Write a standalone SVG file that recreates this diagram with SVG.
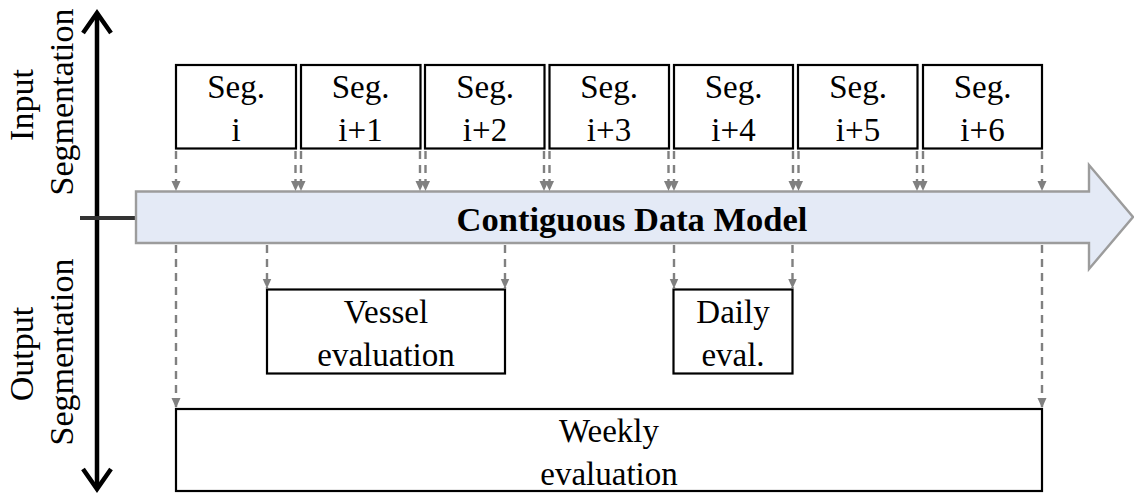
<svg xmlns="http://www.w3.org/2000/svg" width="1134" height="493" viewBox="0 0 1134 493">
<style>
  .box{fill:#fff;stroke:#000;stroke-width:2.2}
  .t{font-family:"Liberation Serif","Times New Roman",serif;font-size:33px;fill:#000;text-anchor:middle}
  .side{font-family:"Liberation Serif","Times New Roman",serif;font-size:34px;fill:#000;text-anchor:middle}
  .dash{stroke:#808080;stroke-width:2.4;stroke-dasharray:8 6;fill:none;marker-end:url(#ah)}
  .axis{stroke:#000;stroke-width:4.5;fill:none}
</style>
<defs>
  <marker id="ah" markerUnits="userSpaceOnUse" markerWidth="11" markerHeight="11" viewBox="0 0 11 11" refX="10" refY="5.5" orient="auto">
    <path d="M0,1 L10,5.5 L0,10 z" fill="#808080"/>
  </marker>
</defs>
<g id="axis">
  <line class="axis" x1="97" y1="14" x2="97" y2="488"/>
  <polyline class="axis" points="83,33 97,13 111,33"/>
  <polyline class="axis" points="83,469 97,489 111,469"/>
  <line x1="80" y1="218" x2="137" y2="218" stroke="#333" stroke-width="4"/>
  <text class="side" transform="translate(33,105) rotate(-90)">Input</text>
  <text class="side" transform="translate(73,102) rotate(-90)">Segmentation</text>
  <text class="side" transform="translate(33,354) rotate(-90)">Output</text>
  <text class="side" transform="translate(73,352) rotate(-90)">Segmentation</text>
</g>
<g id="data-model">
  <polygon points="136,191.5 1089,191.5 1089,165 1133,217 1089,269 1089,243 136,243" fill="#e4eaf6" stroke="#9c9c9c" stroke-width="2.4"/>
  <text x="632" y="231" font-family="Liberation Serif, Times New Roman, serif" font-size="34.5" font-weight="bold" text-anchor="middle">Contiguous Data Model</text>
</g>
<g id="seg-i"><rect class="box" x="176" y="65" width="120" height="83.5"/><text class="t" x="236" y="98">Seg.</text><text class="t" x="236" y="141">i</text></g>
<g id="seg-i1"><rect class="box" x="301" y="65" width="119.5" height="83.5"/><text class="t" x="360.5" y="98">Seg.</text><text class="t" x="360.5" y="141">i+1</text></g>
<g id="seg-i2"><rect class="box" x="425" y="65" width="119.5" height="83.5"/><text class="t" x="485" y="98">Seg.</text><text class="t" x="485" y="141">i+2</text></g>
<g id="seg-i3"><rect class="box" x="549.5" y="65" width="119.5" height="83.5"/><text class="t" x="609" y="98">Seg.</text><text class="t" x="609" y="141">i+3</text></g>
<g id="seg-i4"><rect class="box" x="674" y="65" width="119" height="83.5"/><text class="t" x="733.5" y="98">Seg.</text><text class="t" x="733.5" y="141">i+4</text></g>
<g id="seg-i5"><rect class="box" x="798" y="65" width="119.5" height="83.5"/><text class="t" x="858" y="98">Seg.</text><text class="t" x="858" y="141">i+5</text></g>
<g id="seg-i6"><rect class="box" x="923" y="65" width="119" height="83.5"/><text class="t" x="982.5" y="98">Seg.</text><text class="t" x="982.5" y="141">i+6</text></g>
<g id="vessel"><rect class="box" x="267" y="289.5" width="238" height="84"/><text class="t" x="386" y="323">Vessel</text><text class="t" x="386" y="366">evaluation</text></g>
<g id="daily"><rect class="box" x="673.5" y="289.5" width="119" height="84"/><text class="t" x="733" y="323">Daily</text><text class="t" x="733" y="366">eval.</text></g>
<g id="weekly"><rect class="box" x="176" y="409" width="866" height="82"/><text class="t" x="609" y="442">Weekly</text><text class="t" x="609" y="485">evaluation</text></g>
<g id="connectors">
  <line class="dash" x1="176" y1="151" x2="176" y2="191"/>
  <line class="dash" x1="295.5" y1="151" x2="295.5" y2="191"/>
  <line class="dash" x1="301" y1="151" x2="301" y2="191"/>
  <line class="dash" x1="420" y1="151" x2="420" y2="191"/>
  <line class="dash" x1="425.5" y1="151" x2="425.5" y2="191"/>
  <line class="dash" x1="544" y1="151" x2="544" y2="191"/>
  <line class="dash" x1="549.5" y1="151" x2="549.5" y2="191"/>
  <line class="dash" x1="668.5" y1="151" x2="668.5" y2="191"/>
  <line class="dash" x1="674" y1="151" x2="674" y2="191"/>
  <line class="dash" x1="793" y1="151" x2="793" y2="191"/>
  <line class="dash" x1="798.5" y1="151" x2="798.5" y2="191"/>
  <line class="dash" x1="917" y1="151" x2="917" y2="191"/>
  <line class="dash" x1="923" y1="151" x2="923" y2="191"/>
  <line class="dash" x1="1042" y1="151" x2="1042" y2="191"/>
  <line class="dash" x1="176" y1="245" x2="176" y2="408"/>
  <line class="dash" x1="267" y1="245" x2="267" y2="288.5"/>
  <line class="dash" x1="505" y1="245" x2="505" y2="288.5"/>
  <line class="dash" x1="674" y1="245" x2="674" y2="288.5"/>
  <line class="dash" x1="792.5" y1="245" x2="792.5" y2="288.5"/>
  <line class="dash" x1="1042" y1="245" x2="1042" y2="408"/>
</g>
</svg>
